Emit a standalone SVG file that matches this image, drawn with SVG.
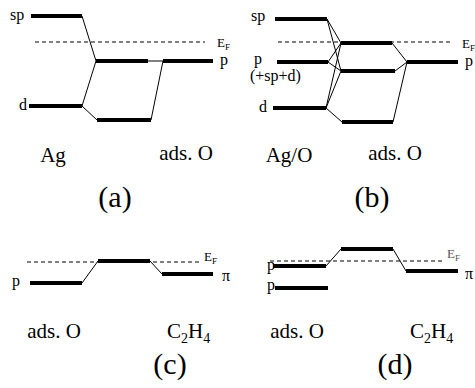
<svg xmlns="http://www.w3.org/2000/svg" width="475" height="388" viewBox="0 0 475 388" font-family="Liberation Serif, serif">
<style>
.lv{stroke:#000;stroke-width:4;fill:none}
.cn{stroke:#000;stroke-width:1;fill:none}
.ef{stroke:#000;stroke-width:1;stroke-dasharray:4 3;fill:none}
.sm{font-size:16px}
.lb{font-size:21px}
.tt{font-size:30px}
.e{font-size:13px}
.es{font-size:9px}
</style>
<rect width="475" height="388" fill="#fff"/>
<g id="connectors">
<line class="cn" x1="82" y1="16" x2="96" y2="61"/>
<line class="cn" x1="82" y1="106" x2="96" y2="61"/>
<line class="cn" x1="82" y1="106" x2="97" y2="120"/>
<line class="cn" x1="151" y1="120" x2="163" y2="61"/>
<line class="cn" x1="148" y1="61" x2="163" y2="61"/>
<line class="cn" x1="327" y1="19" x2="341" y2="43"/>
<line class="cn" x1="327" y1="19" x2="341" y2="71"/>
<line class="cn" x1="328" y1="62" x2="341" y2="43"/>
<line class="cn" x1="328" y1="62" x2="341" y2="71"/>
<line class="cn" x1="326" y1="108" x2="341" y2="43"/>
<line class="cn" x1="326" y1="108" x2="341" y2="71"/>
<line class="cn" x1="326" y1="108" x2="342" y2="122"/>
<line class="cn" x1="392" y1="43" x2="407" y2="62"/>
<line class="cn" x1="395" y1="71" x2="407" y2="62"/>
<line class="cn" x1="393" y1="122" x2="407" y2="62"/>
<line class="cn" x1="82" y1="283" x2="98" y2="261"/>
<line class="cn" x1="150" y1="261" x2="162" y2="274"/>
<line class="cn" x1="326" y1="266" x2="341" y2="249"/>
<line class="cn" x1="393" y1="249" x2="406" y2="271"/>
</g>
<g id="fermi">
<line class="ef" x1="35" y1="42" x2="205" y2="42"/>
<line class="ef" x1="278" y1="42" x2="450" y2="42"/>
<line class="ef" x1="27" y1="262" x2="200" y2="262"/>
<line class="ef" x1="270" y1="261" x2="442" y2="261"/>
</g>
<g id="panel-a">
<g id="a-sp"><line class="lv" x1="31" y1="16" x2="82" y2="16"/><text class="sm" x="10" y="20">sp</text></g>
<g id="a-d"><line class="lv" x1="29" y1="106" x2="82" y2="106"/><text class="sm" x="19" y="110">d</text></g>
<g id="a-mid"><line class="lv" x1="96" y1="61" x2="148" y2="61"/></g>
<g id="a-p"><line class="lv" x1="163" y1="61" x2="213" y2="61"/><text class="sm" x="220" y="65">p</text></g>
<g id="a-low"><line class="lv" x1="97" y1="120" x2="151" y2="120"/></g>
<text class="e" x="217" y="47">E<tspan class="es" dy="3">F</tspan></text>
<text class="lb" x="53" y="162" text-anchor="middle">Ag</text>
<text class="lb" x="186" y="160" text-anchor="middle">ads. O</text>
<text class="tt" x="115" y="207" text-anchor="middle">(a)</text>
</g>
<g id="panel-b">
<g id="b-sp"><line class="lv" x1="275" y1="19" x2="327" y2="19"/><text class="sm" x="251" y="21">sp</text></g>
<g id="b-p"><line class="lv" x1="277" y1="62" x2="328" y2="62"/><text class="sm" x="254" y="64">p</text><text class="sm" x="250" y="81">(+sp+d)</text></g>
<g id="b-d"><line class="lv" x1="273" y1="108" x2="326" y2="108"/><text class="sm" x="259" y="112">d</text></g>
<g id="b-up"><line class="lv" x1="341" y1="43" x2="392" y2="43"/></g>
<g id="b-mid"><line class="lv" x1="341" y1="71" x2="395" y2="71"/></g>
<g id="b-low"><line class="lv" x1="342" y1="122" x2="393" y2="122"/></g>
<g id="b-pO"><line class="lv" x1="407" y1="62" x2="458" y2="62"/><text class="sm" x="465" y="66">p</text></g>
<text class="e" x="462" y="48">E<tspan class="es" dy="3">F</tspan></text>
<text class="lb" x="289" y="162" text-anchor="middle">Ag/O</text>
<text class="lb" x="395" y="160" text-anchor="middle">ads. O</text>
<text class="tt" x="372" y="207" text-anchor="middle">(b)</text>
</g>
<g id="panel-c">
<g id="c-p"><line class="lv" x1="30" y1="283" x2="82" y2="283"/><text class="sm" x="12" y="286">p</text></g>
<g id="c-up"><line class="lv" x1="98" y1="261" x2="150" y2="261"/></g>
<g id="c-pi"><line class="lv" x1="162" y1="274" x2="213" y2="274"/><text class="sm" x="222" y="281">π</text></g>
<text class="e" x="204" y="261">E<tspan class="es" dy="3">F</tspan></text>
<text class="lb" x="54" y="338" text-anchor="middle">ads. O</text>
<text class="lb" x="167" y="338">C<tspan font-size="14" dy="5">2</tspan><tspan dy="-5">H</tspan><tspan font-size="14" dy="5">4</tspan></text>
<text class="tt" x="170" y="374" text-anchor="middle">(c)</text>
</g>
<g id="panel-d">
<g id="d-p1"><line class="lv" x1="273" y1="266" x2="326" y2="266"/><text class="sm" x="267" y="270">p</text></g>
<g id="d-p2"><line class="lv" x1="275" y1="288" x2="328" y2="288"/><text class="sm" x="267" y="290">p</text></g>
<g id="d-up"><line class="lv" x1="341" y1="249" x2="393" y2="249"/></g>
<g id="d-pi"><line class="lv" x1="406" y1="271" x2="458" y2="271"/><text class="sm" x="465" y="279">π</text></g>
<text class="e" x="447" y="258" fill="#555">E<tspan class="es" dy="3">F</tspan></text>
<text class="lb" x="297" y="338" text-anchor="middle">ads. O</text>
<text class="lb" x="410" y="338">C<tspan font-size="14" dy="5">2</tspan><tspan dy="-5">H</tspan><tspan font-size="14" dy="5">4</tspan></text>
<text class="tt" x="395" y="374" text-anchor="middle">(d)</text>
</g>
</svg>
